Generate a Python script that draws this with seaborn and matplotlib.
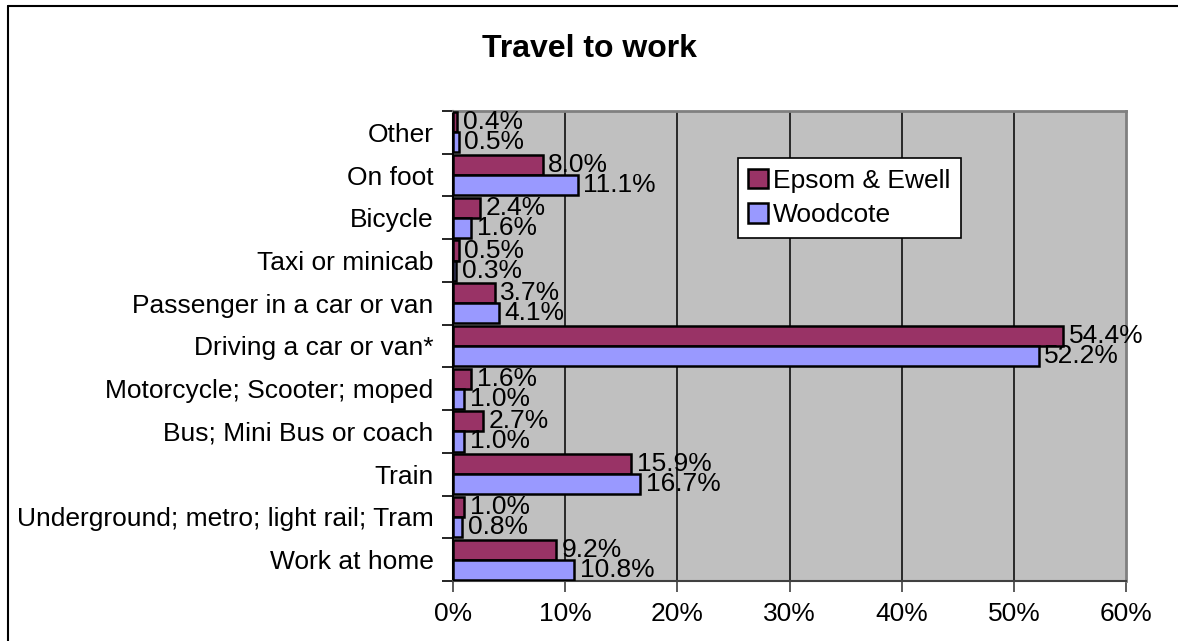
import seaborn as sns
import pandas as pd
import matplotlib.pyplot as plt
from matplotlib.lines import Line2D
from matplotlib.patches import Patch

# -------------------------------------------------
# Data (percent of working residents)
# -------------------------------------------------
modes = [
    "Other",
    "On foot",
    "Bicycle",
    "Taxi or minicab",
    "Passenger in a car or van",
    "Driving a car or van*",
    "Motorcycle; Scooter; moped",
    "Bus; Mini Bus or coach",
    "Train",
    "Underground; metro; light rail; Tram",
    "Work at home",
]
epsom = [0.4, 8.0, 2.4, 0.5, 3.7, 54.4, 1.6, 2.7, 15.9, 1.0, 9.2]
woodcote = [0.5, 11.1, 1.6, 0.3, 4.1, 52.2, 1.0, 1.0, 16.7, 0.8, 10.8]
areas = ["Epsom & Ewell", "Woodcote"]
xticks = [0, 10, 20, 30, 40, 50, 60]

df = pd.DataFrame({
    "mode": modes * 2,
    "pct": epsom + woodcote,
    "area": [areas[0]] * len(modes) + [areas[1]] * len(modes),
})

# Plot settings
sns.set_theme(style="white")
plt.rcParams["font.family"] = ["Liberation Sans", "DejaVu Sans"]
plt.rcParams["text.color"] = "black"
plt.rcParams["xtick.color"] = "black"
plt.rcParams["ytick.color"] = "black"
plt.rcParams["xtick.labelcolor"] = "black"
plt.rcParams["ytick.labelcolor"] = "black"
area_colors = {"Epsom & Ewell": "#993366", "Woodcote": "#9999FF"}
fs = 19

fig = plt.figure(figsize=(11.78, 6.41), dpi=100)
ax = fig.add_axes([453 / 1178, 1 - 581 / 641, 673 / 1178, 470 / 641])
ax.set_facecolor("#C0C0C0")

sns.barplot(
    data=df,
    x="pct",
    y="mode",
    hue="area",
    hue_order=areas,
    order=modes,
    orient="h",
    palette=area_colors,
    saturation=1,
    edgecolor="black",
    linewidth=1.8,
    width=0.94,
    gap=0,
    legend=False,
    ax=ax,
    zorder=3,
)

for cont in ax.containers:
    ax.bar_label(cont, fmt="%.1f%%", padding=4, fontsize=fs, color="black", zorder=4)

# Axes / grid
ax.set_xlim(0, 60)
ax.set_ylim(len(modes) - 0.5, -0.5)
ax.set_xticks(xticks)
ax.set_xticklabels([f"{t}%" for t in xticks], fontsize=fs)
for t in xticks[1:-1]:
    ax.axvline(t, color="black", linewidth=1.1, zorder=1)
ax.set_yticks(range(len(modes)))
ax.set_yticklabels(modes, fontsize=fs)
ax.set_yticks([i - 0.5 for i in range(len(modes) + 1)], minor=True)
ax.tick_params(axis="y", which="major", length=0, pad=14)
ax.tick_params(axis="y", which="minor", left=True, length=8, width=1.2, color="black")
ax.tick_params(axis="x", which="major", bottom=True, length=8, width=1.2, color="#404040", pad=7)
ax.set_xlabel("")
ax.set_ylabel("")
ax.spines["left"].set_color("black")
ax.spines["left"].set_linewidth(1.5)
ax.spines["bottom"].set_color("#404040")
ax.spines["bottom"].set_linewidth(1.5)
for s in ["top", "right"]:
    ax.spines[s].set_color("#808080")
    ax.spines[s].set_linewidth(2)

# Legend
handles = [Patch(facecolor=area_colors[a], edgecolor="black", linewidth=1.8) for a in areas]
leg = ax.legend(
    handles, areas,
    loc="upper left",
    bbox_to_anchor=(0.423, 0.9),
    fontsize=fs,
    frameon=True,
    fancybox=False,
    edgecolor="black",
    framealpha=1,
    handlelength=0.75,
    handleheight=0.75,
    handletextpad=0.2,
    labelspacing=0.4,
    borderpad=0.4,
    borderaxespad=0,
)
leg.get_frame().set_linewidth(1.2)

# Title and chart border
fig.text(0.5, 1 - 49 / 641, "Travel to work", ha="center", va="center",
         fontsize=23, fontweight="bold")
bx, by = 8 / 1178, 1 - 6 / 641
fig.add_artist(Line2D([bx, bx], [0, by], color="black", linewidth=1.5))
fig.add_artist(Line2D([bx, 1], [by, by], color="black", linewidth=1.5))

fig.savefig("out.png", dpi=100)
